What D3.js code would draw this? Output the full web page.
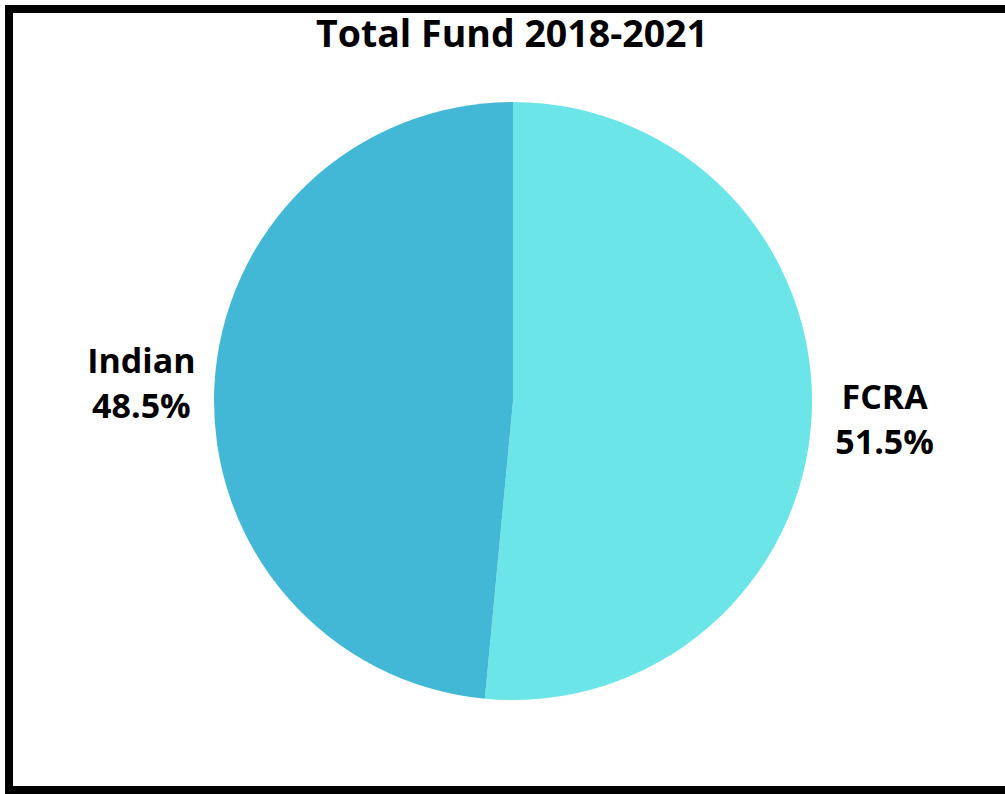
<!DOCTYPE html>
<html>
<head>
<meta charset="utf-8">
<script src="https://cdn.jsdelivr.net/npm/d3@7"></script>
<style>
  body { margin: 0; background: #fff; }
  text { font-family: "Open Sans", sans-serif; font-weight: 700; fill: #000; }
</style>
</head>
<body>
<svg id="svg"></svg>
<script>
const categories = ["FCRA", "Indian"]
const values = [51.5, 48.5]
const colors = ["#6ce5e8", "#43b8d6"]

const width = 1005, height = 794
const cx = 513, cy = 401, radius = 299

const svg = d3.select("#svg")
    .attr("width", width)
    .attr("height", height)

// frame
svg.append("rect")
    .attr("x", 9)
    .attr("y", 9)
    .attr("width", 1010)
    .attr("height", 781)
    .attr("fill", "none")
    .attr("stroke", "#000")
    .attr("stroke-width", 8)

svg.append("text")
    .attr("x", 512)
    .attr("y", 47)
    .attr("text-anchor", "middle")
    .style("font-size", "37.5px")
    .text("Total Fund 2018-2021")

const color = d3.scaleOrdinal().domain(categories).range(colors)

const pie = d3.pie().sort(null).value(d => d.value)
const data = categories.map((c, i) => ({ name: c, value: values[i] }))

const arc = d3.arc().innerRadius(0).outerRadius(radius)
const labelArc = d3.arc().innerRadius(372).outerRadius(372)

const g = svg.append("g").attr("transform", `translate(${cx},${cy})`)

g.selectAll("path")
    .data(pie(data))
    .join("path")
    .attr("d", arc)
    .attr("fill", d => color(d.data.name))

const labels = g.selectAll("text.lbl")
    .data(pie(data))
    .join("text")
    .attr("class", "lbl")
    .attr("text-anchor", "middle")
    .style("font-size", "34px")
    .attr("transform", d => `translate(${labelArc.centroid(d)})`)

labels.append("tspan")
    .attr("x", 0)
    .attr("y", -10)
    .text(d => d.data.name)

labels.append("tspan")
    .attr("x", 0)
    .attr("y", 35)
    .text(d => d.data.value.toFixed(1) + "%")
</script>
</body>
</html>
